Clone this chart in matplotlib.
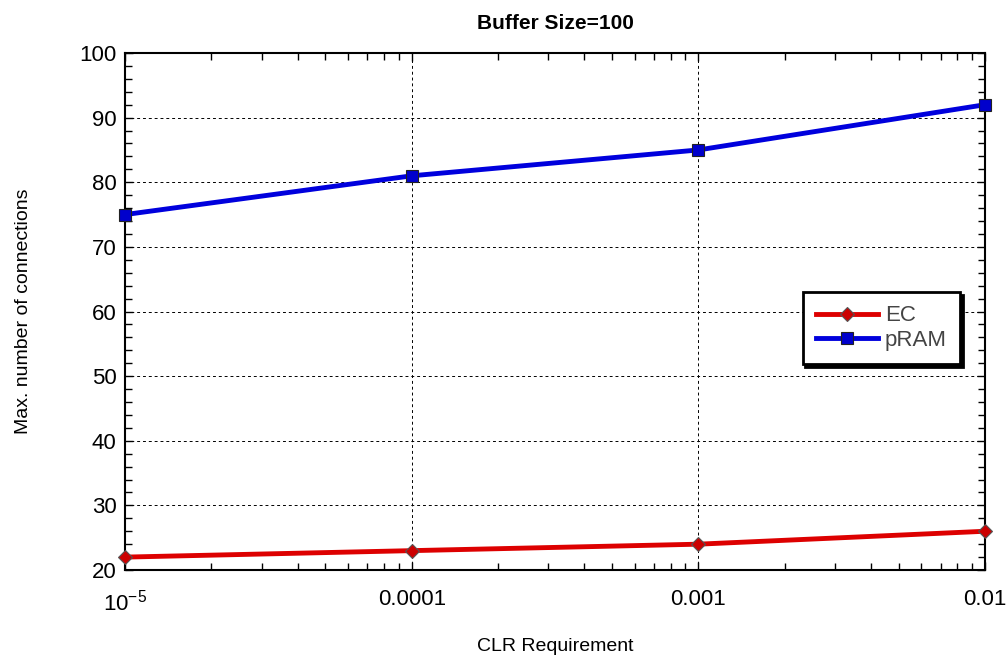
import matplotlib
matplotlib.use('Agg')
import matplotlib.pyplot as plt
from matplotlib.ticker import FixedLocator, FixedFormatter, MultipleLocator, LogLocator, NullFormatter

plt.rcParams['font.family'] = ['Liberation Sans', 'DejaVu Sans']
plt.rcParams['axes.unicode_minus'] = False

clr = [1e-5, 1e-4, 1e-3, 1e-2]
clr_labels = ['$\\mathregular{10^{-5}}$', '0.0001', '0.001', '0.01']
ec = [22, 23, 24, 26]
pram = [75, 81, 85, 92]

fig = plt.figure(figsize=(10.06, 6.66), dpi=100)
ax = fig.add_axes([0.1243, 0.1441, 0.8548, 0.7763])

ax.plot(clr, ec, color='#dd0000', lw=3.5, marker='D', ms=7,
        mfc='#cc0000', mec='#555555', mew=0.8, label='EC', clip_on=False, zorder=3)
ax.plot(clr, pram, color='#0000dd', lw=3.5, marker='s', ms=9,
        mfc='#0000cc', mec='#222222', mew=0.8, label='pRAM', clip_on=False, zorder=3)

ax.set_xscale('log')
ax.set_xlim(1e-5, 1e-2)
ax.set_ylim(20, 100)
ax.xaxis.set_major_locator(FixedLocator(clr))
ax.xaxis.set_major_formatter(FixedFormatter(clr_labels))
ax.xaxis.set_minor_locator(LogLocator(base=10, subs=range(2, 10)))
ax.xaxis.set_minor_formatter(NullFormatter())
ax.yaxis.set_major_locator(MultipleLocator(10))
ax.yaxis.set_minor_locator(MultipleLocator(2))

ax.tick_params(which='both', direction='in', top=True, right=True, width=1)
ax.tick_params(which='major', length=6)
ax.tick_params(which='minor', length=5)
ax.tick_params(axis='x', which='major', labelsize=16, pad=14)
ax.tick_params(axis='y', which='major', labelsize=16, pad=6)

ax.grid(True, which='major', color='black', linestyle=(0, (3, 3)), lw=0.7)
for s in ax.spines.values():
    s.set_linewidth(1.5)

ax.set_title('Buffer Size=100', fontsize=15, fontweight='bold', pad=17)
ax.set_xlabel('CLR Requirement', fontsize=14, labelpad=16)
ax.set_ylabel('Max. number of connections', fontsize=14, labelpad=34)

leg = ax.legend(loc='upper left', bbox_to_anchor=(0.775, 0.559), fontsize=16,
                fancybox=False, shadow={'color': 'black', 'alpha': 1},
                framealpha=1, edgecolor='black', borderpad=0.6,
                handlelength=2.8, handletextpad=0.3, labelspacing=0.15,
                labelcolor='#444444')
leg.get_frame().set_linewidth(2)

fig.savefig('out.png', dpi=100)
